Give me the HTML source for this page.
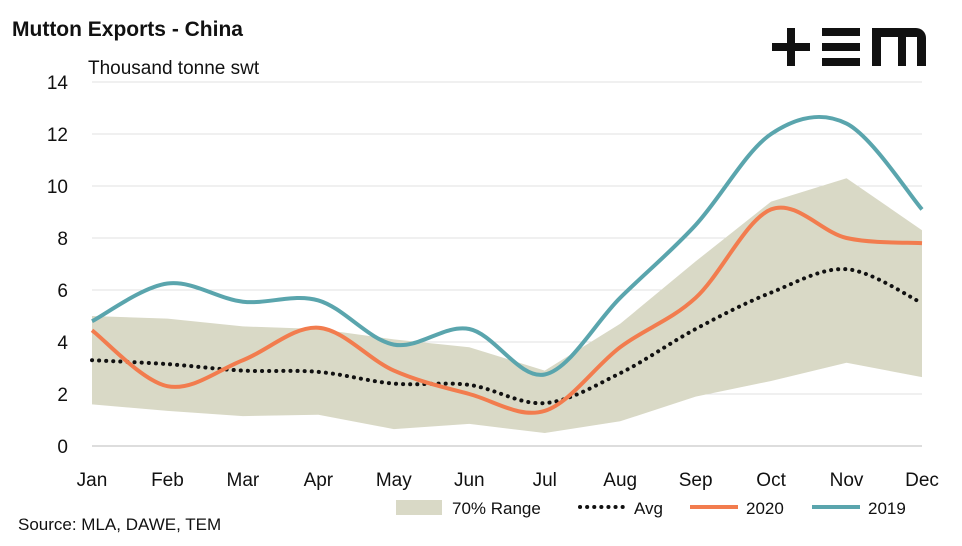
<!DOCTYPE html>
<html><head><meta charset="utf-8"><style>
body{margin:0;background:#fff;font-family:"Liberation Sans",sans-serif;}
svg text{font-family:"Liberation Sans",sans-serif;}
</style></head><body>
<svg id="chart" width="962" height="541" xmlns="http://www.w3.org/2000/svg">
<text x="12" y="36" font-size="21" font-weight="bold" fill="#111">Mutton Exports - China</text>
<text x="88" y="74" font-size="19" fill="#111">Thousand tonne swt</text>
<g fill="#111">
<rect x="772" y="43" width="38" height="8"/><rect x="787" y="28" width="8" height="38"/>
<rect x="822" y="28" width="38" height="8"/><rect x="822" y="43" width="38" height="8"/><rect x="822" y="58" width="38" height="8"/>
<path d="M872 66V28h44a10 10 0 0 1 10 10v28h-9V37h-11v29h-8V37h-17v29z"/>
</g>
<g id="grid"></g><g id="plot"></g><g id="axes"></g>
<text x="18" y="530" font-size="17" fill="#111">Source: MLA, DAWE, TEM</text>
<g>
<g><rect x="396" y="500" width="46" height="15" fill="#d9d9c6"/><text x="452" y="514" font-size="17" fill="#111">70% Range</text></g>
<g><line x1="580" y1="507" x2="626" y2="507" stroke="#111" stroke-width="4" stroke-dasharray="0.1 7" stroke-linecap="round"/><text x="634" y="514" font-size="17" fill="#111">Avg</text></g>
<g><line x1="690" y1="507" x2="738" y2="507" stroke="#f27c4e" stroke-width="4"/><text x="746" y="514" font-size="17" fill="#111">2020</text></g>
<g><line x1="812" y1="507" x2="860" y2="507" stroke="#5aa5ad" stroke-width="4"/><text x="868" y="514" font-size="17" fill="#111">2019</text></g>
</g>
</svg>
<script>
const months=["Jan","Feb","Mar","Apr","May","Jun","Jul","Aug","Sep","Oct","Nov","Dec"];
const yTicks=[0,2,4,6,8,10,12,14];
const rangeUpper=[5.0,4.9,4.6,4.5,4.1,3.8,2.9,4.7,7.1,9.4,10.3,8.3];
const rangeLower=[1.6,1.35,1.15,1.2,0.65,0.85,0.5,0.95,1.9,2.5,3.2,2.65];
const avg=[3.3,3.15,2.9,2.85,2.4,2.35,1.65,2.8,4.5,5.9,6.8,5.5];
const s2020=[4.45,2.3,3.3,4.55,2.9,2.0,1.35,3.8,5.7,9.1,8.0,7.8];
const s2019=[4.8,6.25,5.55,5.6,3.9,4.5,2.75,5.7,8.5,12.0,12.4,9.1];
const X0=92,X1=922,Y0=446,Y1=82;
const x=i=>X0+i*(X1-X0)/(months.length-1);
const y=v=>Y0-v*(Y0-Y1)/14;
const NS="http://www.w3.org/2000/svg";
function mk(t,a,p){const e=document.createElementNS(NS,t);for(const k in a)e.setAttribute(k,a[k]);p.appendChild(e);return e;}
const grid=document.getElementById('grid'),plot=document.getElementById('plot'),axes=document.getElementById('axes');
yTicks.forEach(v=>{
 const l=mk('line',{x1:X0,x2:X1,y1:y(v),y2:y(v),stroke:v===0?'#bbb':'#e0e0e0','stroke-width':1},grid);
 
 
 const t=mk('text',{x:68,y:y(v)+7,'font-size':19,'text-anchor':'end',fill:'#111'},axes);t.textContent=v;
 
 
});
months.forEach((m,i)=>{
 const t=mk('text',{x:x(i),y:486,'font-size':19,'text-anchor':'middle',fill:'#111'},axes);t.textContent=m;
 
 
});
let d='M'+rangeUpper.map((v,i)=>x(i)+','+y(v)).join('L');
for(let i=rangeLower.length-1;i>=0;i--)d+='L'+x(i)+','+y(rangeLower[i]);
const area=mk('path',{d:d+'Z',fill:'#d9d9c6'},plot);


function smooth(arr){const p=arr.map((v,i)=>[x(i),y(v)]);let s='M'+p[0];
 for(let i=0;i<p.length-1;i++){const a=p[i-1]||p[i],b=p[i],c=p[i+1],e=p[i+2]||c;
  s+=' C'+(b[0]+(c[0]-a[0])/6)+','+(b[1]+(c[1]-a[1])/6)+' '+(c[0]-(e[0]-b[0])/6)+','+(c[1]-(e[1]-b[1])/6)+' '+c[0]+','+c[1];}
 return s;}
const la=mk('path',{d:smooth(avg),fill:'none',stroke:'#111','stroke-width':4,'stroke-dasharray':'0.1 7','stroke-linecap':'round'},plot);


const l20=mk('path',{d:smooth(s2020),fill:'none',stroke:'#f27c4e','stroke-width':4},plot);


const l19=mk('path',{d:smooth(s2019),fill:'none',stroke:'#5aa5ad','stroke-width':4},plot);


</script>
</body></html>
